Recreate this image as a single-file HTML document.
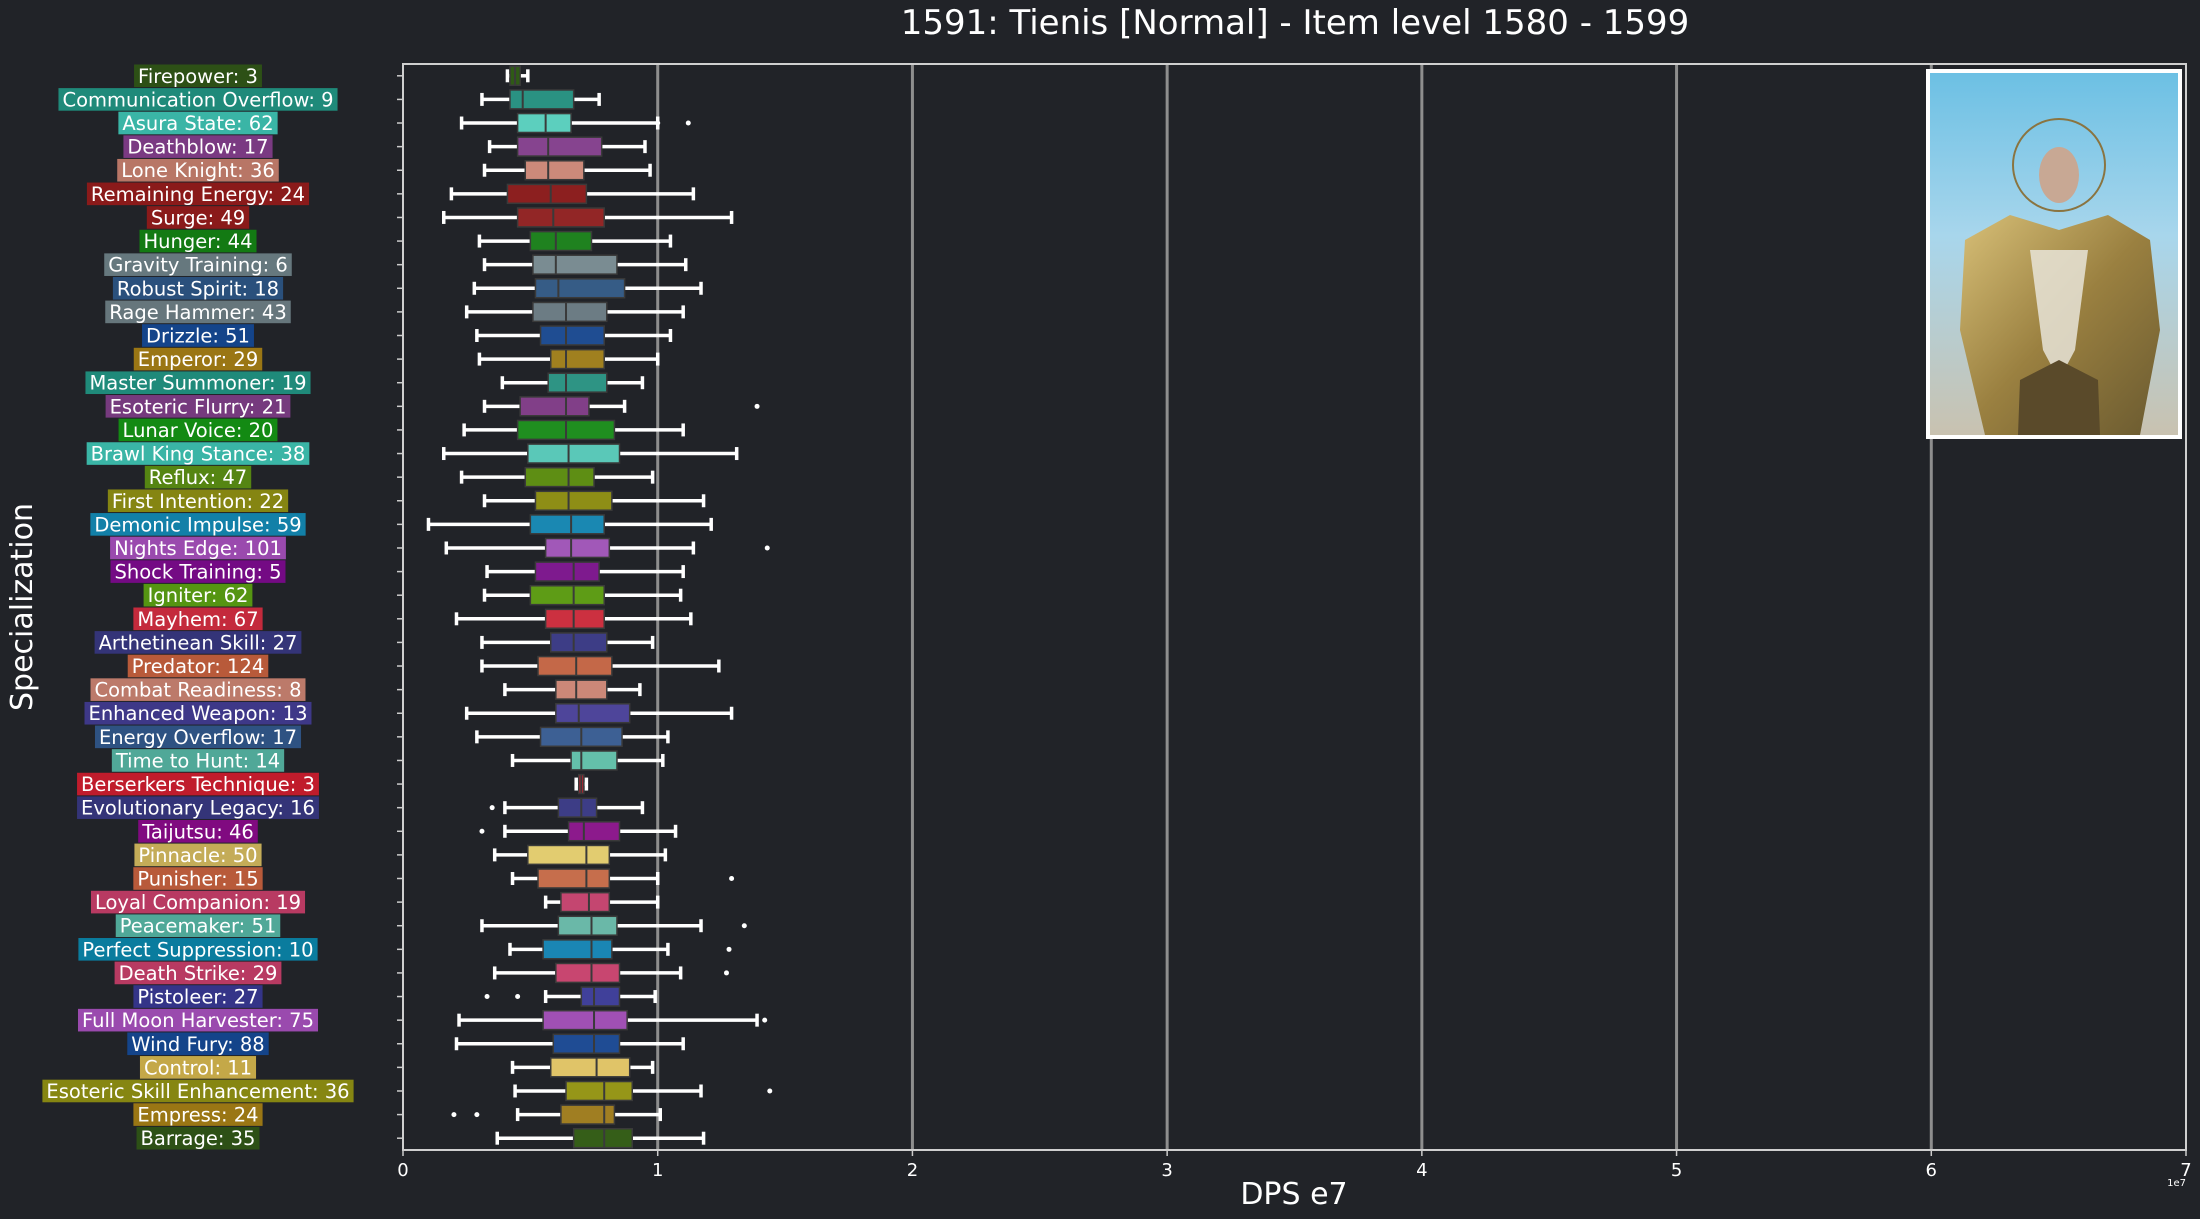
<!DOCTYPE html>
<html><head><meta charset="utf-8"><style>
html,body{margin:0;padding:0;background:#212328;}
svg{display:block;font-family:"DejaVu Sans","Liberation Sans",sans-serif;}
</style></head><body>
<svg id="chart" width="2200" height="1219" viewBox="0 0 2200 1219" xmlns="http://www.w3.org/2000/svg">
<rect x="0" y="0" width="2200" height="1219" fill="#212328"/>
<text x="1295" y="34" fill="#ffffff" font-size="34" text-anchor="middle">1591: Tienis [Normal] - Item level 1580 - 1599</text>
<g id="grid"></g>
<g id="boxes"></g>
<g id="labels"></g>
<g id="axes"></g>
<g>
  <defs>
    <linearGradient id="sky" x1="0" y1="0" x2="0" y2="1">
      <stop offset="0" stop-color="#6cc0e4"/><stop offset="0.45" stop-color="#a8d6ec"/><stop offset="1" stop-color="#c9c2b0"/>
    </linearGradient>
    <linearGradient id="gold" x1="0" y1="0" x2="1" y2="1">
      <stop offset="0" stop-color="#d8c078"/><stop offset="0.5" stop-color="#9a8040"/><stop offset="1" stop-color="#6a5a30"/>
    </linearGradient>
  </defs>
  <rect x="1926" y="69" width="256" height="370" fill="#ffffff"/>
  <rect x="1930" y="73" width="248" height="362" fill="url(#sky)"/>
  <circle cx="2059" cy="165" r="46" fill="none" stroke="#8a7440" stroke-width="2"/>
  <ellipse cx="2059" cy="175" rx="20" ry="28" fill="#c8a894"/>
  <path d="M1965 240 L2010 215 L2059 230 L2108 215 L2150 240 L2160 330 L2140 435 L1985 435 L1960 330 Z" fill="url(#gold)"/>
  <path d="M2030 250 L2088 250 L2075 350 L2059 380 L2043 350 Z" fill="#e8e4d8" opacity="0.85"/>
  <path d="M2020 380 L2059 360 L2098 380 L2100 435 L2018 435 Z" fill="#5a4a2a"/>
</g>
</svg>
<script>
const categories = ["Firepower: 3","Communication Overflow: 9","Asura State: 62","Deathblow: 17","Lone Knight: 36","Remaining Energy: 24","Surge: 49","Hunger: 44","Gravity Training: 6","Robust Spirit: 18","Rage Hammer: 43","Drizzle: 51","Emperor: 29","Master Summoner: 19","Esoteric Flurry: 21","Lunar Voice: 20","Brawl King Stance: 38","Reflux: 47","First Intention: 22","Demonic Impulse: 59","Nights Edge: 101","Shock Training: 5","Igniter: 62","Mayhem: 67","Arthetinean Skill: 27","Predator: 124","Combat Readiness: 8","Enhanced Weapon: 13","Energy Overflow: 17","Time to Hunt: 14","Berserkers Technique: 3","Evolutionary Legacy: 16","Taijutsu: 46","Pinnacle: 50","Punisher: 15","Loyal Companion: 19","Peacemaker: 51","Perfect Suppression: 10","Death Strike: 29","Pistoleer: 27","Full Moon Harvester: 75","Wind Fury: 88","Control: 11","Esoteric Skill Enhancement: 36","Empress: 24","Barrage: 35"];
const whiskerLow = [0.41,0.31,0.23,0.34,0.32,0.19,0.16,0.30,0.32,0.28,0.25,0.29,0.30,0.39,0.32,0.24,0.16,0.23,0.32,0.10,0.17,0.33,0.32,0.21,0.31,0.31,0.40,0.25,0.29,0.43,0.68,0.40,0.40,0.36,0.43,0.56,0.31,0.42,0.36,0.56,0.22,0.21,0.43,0.44,0.45,0.37];
const q1 = [0.42,0.42,0.45,0.45,0.48,0.41,0.45,0.50,0.51,0.52,0.51,0.54,0.58,0.57,0.46,0.45,0.49,0.48,0.52,0.50,0.56,0.52,0.50,0.56,0.58,0.53,0.60,0.60,0.54,0.66,0.69,0.61,0.65,0.49,0.53,0.62,0.61,0.55,0.60,0.70,0.55,0.59,0.58,0.64,0.62,0.67];
const medians = [0.44,0.47,0.56,0.57,0.57,0.58,0.59,0.60,0.60,0.61,0.64,0.64,0.64,0.64,0.64,0.64,0.65,0.65,0.65,0.66,0.66,0.67,0.67,0.67,0.67,0.68,0.68,0.69,0.70,0.70,0.70,0.70,0.71,0.72,0.72,0.73,0.74,0.74,0.74,0.75,0.75,0.75,0.76,0.79,0.79,0.79];
const q3 = [0.46,0.67,0.66,0.78,0.71,0.72,0.79,0.74,0.84,0.87,0.80,0.79,0.79,0.80,0.73,0.83,0.85,0.75,0.82,0.79,0.81,0.77,0.79,0.79,0.80,0.82,0.80,0.89,0.86,0.84,0.71,0.76,0.85,0.81,0.81,0.81,0.84,0.82,0.85,0.85,0.88,0.85,0.89,0.90,0.83,0.90];
const whiskerHigh = [0.49,0.77,1.00,0.95,0.97,1.14,1.29,1.05,1.11,1.17,1.10,1.05,1.00,0.94,0.87,1.10,1.31,0.98,1.18,1.21,1.14,1.10,1.09,1.13,0.98,1.24,0.93,1.29,1.04,1.02,0.72,0.94,1.07,1.03,1.00,1.00,1.17,1.04,1.09,0.99,1.39,1.10,0.98,1.17,1.01,1.18];
const outliers = [[],[],[1.0,1.12],[],[],[],[],[],[],[],[],[],[],[],[1.39],[],[],[],[],[],[1.43],[],[],[],[],[],[],[],[],[],[],[0.35],[0.31],[],[1.29],[],[1.34],[1.28],[1.27],[0.33,0.45],[1.42],[],[],[1.44],[0.20,0.29],[]];
const colors = ["#2f5a16","#2a9282","#5ccfbe","#86448f","#cc8a7a","#8c1f1f","#922626","#1f821f","#7a8c92","#365c86","#6c7c84","#1f4d92","#a0801f","#2e9484","#813f88","#1f8e1f","#5ac8b8","#5e8e14","#8e8e16","#1a88b2","#a158b8","#7e1a8e","#5e9c16","#cc3040","#3d3d86","#c46848","#cc8878","#4e459a","#3d6094","#64c0aa","#c42030","#3d3d86","#8c1a8c","#e2cc70","#c66e4c","#c44670","#6ab8a8","#1a86b4","#c84670","#40409a","#a050b4","#1f4c94","#e0c468","#969618","#a07e22","#355e18"];
const labelColors = ["#2d5016","#1f8a7a","#3ab5a6","#7a3a82","#b87666","#8a1a1a","#8a1a1a","#137a13","#66787e","#2a507c","#66767c","#14448a","#9a7614","#1f8a7a","#763a7e","#138a13","#3ab5a6","#558512","#858512","#1280a8","#9a4aae","#740a84","#559512","#c42a3c","#343478","#b85a3a","#bc7a6a","#3e3888","#2e5282","#50a898","#c01c2c","#343478","#800a80","#c4ac58","#b85a3a","#b83a62","#50a898","#0a7c9e","#b83a62","#343488","#9a4aae","#14448a","#c4a848","#868612","#9a7614","#2d5016"];
const xTicks = [0,1,2,3,4,5,6,7];

const NS="http://www.w3.org/2000/svg";
const L=403,R=2186,T=64,B=1150;
const xs=v=>L+(v/7)*(R-L);
const band=(B-T)/categories.length;
const yc=i=>T+band*(i+0.5);
function mk(tag,attrs,parent){const e=document.createElementNS(NS,tag);for(const k in attrs)e.setAttribute(k,attrs[k]);parent.appendChild(e);return e;}

const grid=document.getElementById('grid');
xTicks.forEach(t=>{ if(t>0&&t<7){const g=mk('line',{x1:xs(t),x2:xs(t),y1:T,y2:B,stroke:'#8e8e8e','stroke-width':3},grid);

}});

const boxes=document.getElementById('boxes');
const labels=document.getElementById('labels');
const bh=band*0.8, ch=band*0.55;
categories.forEach((c,i)=>{
  const y=yc(i);
  const g=mk('g',{},boxes);
  
  
  mk('line',{x1:xs(whiskerLow[i]),x2:xs(q1[i]),y1:y,y2:y,stroke:'#fff','stroke-width':3.5},g);
  mk('line',{x1:xs(q3[i]),x2:xs(whiskerHigh[i]),y1:y,y2:y,stroke:'#fff','stroke-width':3.5},g);
  mk('line',{x1:xs(whiskerLow[i]),x2:xs(whiskerLow[i]),y1:y-ch/2,y2:y+ch/2,stroke:'#fff','stroke-width':3.5},g);
  mk('line',{x1:xs(whiskerHigh[i]),x2:xs(whiskerHigh[i]),y1:y-ch/2,y2:y+ch/2,stroke:'#fff','stroke-width':3.5},g);
  mk('rect',{x:xs(q1[i]),y:y-bh/2,width:Math.max(1,xs(q3[i])-xs(q1[i])),height:bh,fill:colors[i],stroke:'#3a3a3a','stroke-width':1.5},g);
  mk('line',{x1:xs(medians[i]),x2:xs(medians[i]),y1:y-bh/2,y2:y+bh/2,stroke:'#3a3a3a','stroke-width':2},g);
  outliers[i].forEach(o=>{const d=mk('circle',{cx:xs(o),cy:y,r:2.5,fill:'#fff'},g);
    
    });
  const lg=mk('g',{},labels);
  
  
  const r=mk('rect',{fill:labelColors[i]},lg);
  const t=mk('text',{x:198,y:y+7,fill:'#fff','font-size':19.5,'text-anchor':'middle'},lg);
  t.textContent=c;
  const w=t.getComputedTextLength();
  r.setAttribute('x',198-w/2-4);r.setAttribute('y',y-band/2+0.5);r.setAttribute('width',w+8);r.setAttribute('height',band-1);
  mk('line',{x1:L-6,x2:L,y1:y,y2:y,stroke:'#ccc','stroke-width':1.5},labels);
});

const axes=document.getElementById('axes');
mk('rect',{x:L,y:T,width:R-L,height:B-T,fill:'none',stroke:'#cfcfcf','stroke-width':2},axes);
xTicks.forEach(t=>{
  mk('line',{x1:xs(t),x2:xs(t),y1:B,y2:B+6,stroke:'#ccc','stroke-width':1.5},axes);
  const tx=mk('text',{x:xs(t),y:B+26,fill:'#fff','font-size':18,'text-anchor':'middle'},axes);
  
  
  tx.textContent=String(t);
});
const off=mk('text',{x:R,y:B+36,fill:'#fff','font-size':10,'text-anchor':'end'},axes);


off.textContent='1e7';
const xl=mk('text',{x:1294,y:1204,fill:'#fff','font-size':30,'text-anchor':'middle'},axes);


xl.textContent='DPS e7';
const yl=mk('text',{x:0,y:0,fill:'#fff','font-size':30,'text-anchor':'middle',transform:'translate(32,607) rotate(-90)'},axes);


yl.textContent='Specialization';
</script>
</body></html>
